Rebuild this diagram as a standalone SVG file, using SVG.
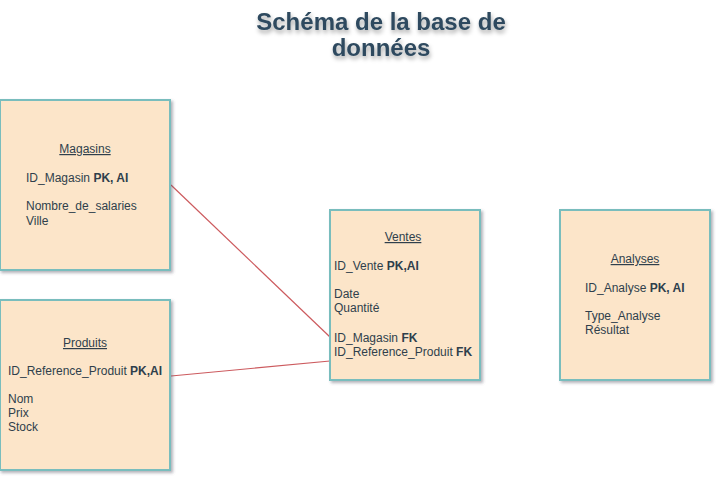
<svg xmlns="http://www.w3.org/2000/svg" width="722" height="482" viewBox="0 0 722 482">
<defs>
<filter id="sh" x="-10%" y="-10%" width="130%" height="130%">
<feGaussianBlur in="SourceAlpha" stdDeviation="1.5"/>
<feOffset dx="2" dy="2" result="b"/>
<feFlood flood-color="#556" flood-opacity="0.45"/>
<feComposite in2="b" operator="in"/>
<feMerge><feMergeNode/><feMergeNode in="SourceGraphic"/></feMerge>
</filter>
<filter id="tsh" x="-10%" y="-20%" width="120%" height="150%">
<feGaussianBlur in="SourceAlpha" stdDeviation="2"/>
<feOffset dx="1" dy="3" result="b"/>
<feFlood flood-color="#000" flood-opacity="0.35"/>
<feComposite in2="b" operator="in"/>
<feMerge><feMergeNode/><feMergeNode in="SourceGraphic"/></feMerge>
</filter>
</defs>
<style>
.box{fill:#fce5c9;stroke:#79bdbd;stroke-width:2;filter:url(#sh)}
.t{font-family:"Liberation Sans",Arial,sans-serif;font-size:12px;fill:#2f3f4c}
.h{text-decoration:underline;text-anchor:middle}
.b{font-weight:bold}
.title{font-family:"Liberation Sans",Arial,sans-serif;font-size:24px;font-weight:bold;fill:#2e4a5f;text-anchor:middle;filter:url(#tsh)}
.c{stroke:#cc5a5e;stroke-width:1.2;fill:none}
</style>
<rect width="722" height="482" fill="#fff"/>
<g id="title">
<text class="title" x="381" y="30">Schéma de la base de</text>
<text class="title" x="381" y="56">données</text>
</g>
<g id="connectors">
<line class="c" x1="171" y1="185" x2="330" y2="337"/>
<line class="c" x1="171" y1="376" x2="330" y2="361"/>
</g>
<g id="magasins">
<rect class="box" x="0" y="100" width="170" height="170"/>
<text class="t h" x="85" y="153">Magasins</text>
<text class="t" x="26" y="182">ID_Magasin <tspan class="b">PK, AI</tspan></text>
<text class="t" x="26" y="210">Nombre_de_salaries</text>
<text class="t" x="26" y="225">Ville</text>
</g>
<g id="produits">
<rect class="box" x="0" y="300" width="170" height="170"/>
<text class="t h" x="85" y="347">Produits</text>
<text class="t" x="8" y="375">ID_Reference_Produit <tspan class="b">PK,AI</tspan></text>
<text class="t" x="8" y="403">Nom</text>
<text class="t" x="8" y="417">Prix</text>
<text class="t" x="8" y="431">Stock</text>
</g>
<g id="ventes">
<rect class="box" x="330" y="210" width="150" height="170"/>
<text class="t h" x="403" y="241">Ventes</text>
<text class="t" x="334" y="270">ID_Vente <tspan class="b">PK,AI</tspan></text>
<text class="t" x="334" y="298">Date</text>
<text class="t" x="334" y="312">Quantité</text>
<text class="t" x="334" y="342">ID_Magasin <tspan class="b">FK</tspan></text>
<text class="t" x="334" y="356">ID_Reference_Produit <tspan class="b">FK</tspan></text>
</g>
<g id="analyses">
<rect class="box" x="560" y="210" width="150" height="170"/>
<text class="t h" x="635" y="263">Analyses</text>
<text class="t" x="585" y="292">ID_Analyse <tspan class="b">PK, AI</tspan></text>
<text class="t" x="585" y="320">Type_Analyse</text>
<text class="t" x="585" y="334">Résultat</text>
</g>
</svg>
